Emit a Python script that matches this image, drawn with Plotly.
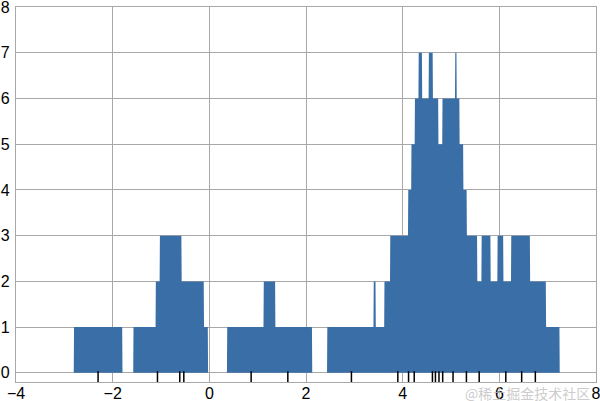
import numpy as np
import plotly.graph_objects as go

# data points (rug positions)
points = [1.624, -0.612, -0.528, -1.073, 0.865, -2.302,
          6.745, 4.239, 5.319, 4.751, 6.462, 2.940, 4.678, 4.616,
          6.134, 3.900, 4.828, 4.122, 5.042, 5.583]
bandwidth = 1.0
x_grid = np.linspace(-4, 8, 2000)
x_ticks = [-4, -2, 0, 2, 4, 6, 8]
y_ticks = [0, 1, 2, 3, 4, 5, 6, 7, 8]

pts = np.array(points)
density = (np.abs(pts[:, None] - x_grid[None, :]) < bandwidth / 2).sum(axis=0)

fig = go.Figure()
fig.add_trace(go.Scatter(
    x=x_grid, y=density, mode="lines", fill="tozeroy",
    line=dict(width=0, color="#3A6EA6"), fillcolor="#3A6EA6",
    hoverinfo="skip", showlegend=False))
fig.add_trace(go.Scatter(
    x=points, y=[-0.1] * len(points), mode="markers",
    marker=dict(symbol="line-ns", size=9, line=dict(width=1.5, color="black")),
    showlegend=False))

grid = "#a8a8a8"
fig.update_layout(
    width=600, height=401,
    margin=dict(l=16, r=4, t=7, b=19),
    paper_bgcolor="white", plot_bgcolor="white",
    font=dict(family="Liberation Sans, Arial, sans-serif", size=16, color="black"),
    xaxis=dict(range=[-4, 8], tickmode="array", tickvals=x_ticks, automargin=False,
               showgrid=True, gridcolor=grid, gridwidth=1.2, zeroline=False,
               showline=True, linecolor=grid, linewidth=1.2, mirror=True,
               ticks="", ticklabelstandoff=-3, ticklabeloverflow="allow"),
    yaxis=dict(range=[-0.2, 8], tickmode="array", tickvals=y_ticks, automargin=False,
               showgrid=True, gridcolor=grid, gridwidth=1.2, zeroline=False,
               showline=True, linecolor=grid, linewidth=1.2, mirror=True,
               ticks="", ticklabelstandoff=2, ticklabeloverflow="allow"),
)
fig.add_annotation(text="@稀土掘金技术社区", xref="paper", yref="paper",
                   x=0.993, y=-0.03, xanchor="right", yanchor="middle",
                   showarrow=False,
                   font=dict(family="Noto Sans CJK SC", size=14, color="rgba(190,190,190,0.8)"))
fig.write_html("out.html", config={"displayModeBar": False},
               post_script="document.body.style.margin='0';document.body.style.overflow='hidden';")
